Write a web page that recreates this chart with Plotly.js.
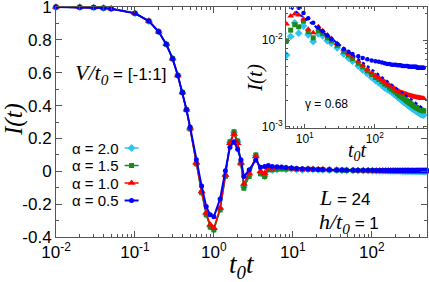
<!DOCTYPE html>
<html>
<head>
<meta charset="utf-8">
<script src="https://cdn.plot.ly/plotly-3.0.1.min.js"></script>
<style>
  html, body { margin: 0; padding: 0; background: #fff; }
  #myDiv { width: 429px; height: 282px; }
</style>
</head>
<body>
<div id="myDiv"></div>
<script>
// time grid t0*t shared by all four runs
var t = [0.01, 0.02, 0.03, 0.04, 0.05, 0.1, 0.15, 0.2, 0.25, 0.3, 0.35, 0.4, 0.45, 0.5,
  0.6, 0.7, 0.8, 0.9, 1.0, 1.2, 1.4, 1.6, 1.8, 2.0, 2.2, 2.4, 2.8, 3.4, 3.9, 4.4, 4.9,
  5.5, 6.3, 7.2, 8.2, 9.6, 11.2, 13.2, 15.6, 18, 21, 24, 29, 36, 42, 48, 58, 67, 78, 90,
  102, 114, 126, 138, 150, 162, 174, 186, 198, 210, 222, 234, 246, 258, 270, 282, 294,
  306, 318, 330, 342, 354, 366, 378, 390, 402, 414, 426, 438, 450, 462, 474, 486, 498];

var alpha20 = [1.0, 0.999, 0.997, 0.994, 0.99, 0.962, 0.915, 0.85, 0.773, 0.686, 0.584, 0.48, 0.375, 0.262,
  0.048, -0.128, -0.262, -0.336, -0.352, -0.23, -0.028, 0.176, 0.236, 0.18, 0.045, -0.095, -0.025, 0.095, -0.01, -0.03, 0.012,
  0.0067, 0.011, 0.0158, 0.012, 0.0145, 0.0115, 0.0096, 0.0118, 0.0112, 0.0098, 0.0092, 0.0081, 0.0069, 0.0062, 0.0057, 0.0050, 0.0045, 0.0041, 0.0037,
  0.0034, 0.0032, 0.0030, 0.0028, 0.0027, 0.0026, 0.0025, 0.0024, 0.0023, 0.0022, 0.00212, 0.00205, 0.00198, 0.00192, 0.00187, 0.00182, 0.00177,
  0.00173, 0.00169, 0.00165, 0.00162, 0.00159, 0.00156, 0.00153, 0.0015, 0.00148, 0.00146, 0.00144, 0.00142, 0.0014, 0.00139, 0.00138, 0.00137, 0.00136];

var alpha15 = [1.0, 0.999, 0.997, 0.994, 0.99, 0.962, 0.915, 0.85, 0.773, 0.686, 0.584, 0.48, 0.375, 0.258,
  0.045, -0.13, -0.265, -0.34, -0.357, -0.235, -0.03, 0.18, 0.241, 0.185, 0.05, -0.103, -0.032, 0.1, -0.015, -0.032, 0.01,
  0.0098, 0.013, 0.015, 0.0142, 0.0165, 0.0125, 0.0106, 0.0128, 0.0119, 0.0106, 0.0098, 0.0087, 0.0074, 0.0067, 0.0061, 0.0054, 0.0049, 0.0044, 0.0040,
  0.0037, 0.0035, 0.0033, 0.0031, 0.0030, 0.0028, 0.0027, 0.0026, 0.0025, 0.0024, 0.0023, 0.00225, 0.00218, 0.00212, 0.00206, 0.0020, 0.00195,
  0.0019, 0.00186, 0.00182, 0.00178, 0.00175, 0.00172, 0.00169, 0.00166, 0.00164, 0.00162, 0.0016, 0.00158, 0.00156, 0.00155, 0.00154, 0.00153, 0.00152];

var alpha10 = [1.0, 0.999, 0.997, 0.994, 0.99, 0.962, 0.915, 0.85, 0.773, 0.686, 0.584, 0.48, 0.375, 0.26,
  0.05, -0.123, -0.253, -0.326, -0.346, -0.223, -0.022, 0.171, 0.227, 0.171, 0.05, -0.077, -0.01, 0.09, 0.0, -0.012, 0.02,
  0.0153, 0.0189, 0.02, 0.0195, 0.0175, 0.0133, 0.0121, 0.0142, 0.0128, 0.0114, 0.0104, 0.0091, 0.0078, 0.0070, 0.0064, 0.0057, 0.0051, 0.0046, 0.0042,
  0.0039, 0.0037, 0.0035, 0.0033, 0.0031, 0.0030, 0.0029, 0.0028, 0.0027, 0.0026, 0.00255, 0.0025, 0.00246, 0.00243, 0.0024, 0.00237, 0.00234,
  0.00231, 0.00229, 0.00227, 0.00225, 0.00223, 0.00221, 0.0022, 0.00219, 0.00218, 0.00217, 0.00216, 0.00215, 0.00214, 0.00213, 0.00212, 0.00212, 0.00211];

var alpha05 = [1.0, 0.999, 0.997, 0.994, 0.99, 0.962, 0.915, 0.85, 0.773, 0.686, 0.584, 0.48, 0.375, 0.27,
  0.07, -0.09, -0.215, -0.265, -0.276, -0.168, 0.004, 0.147, 0.18, 0.134, 0.07, -0.032, 0.009, 0.069, 0.025, 0.03, 0.035,
  0.03, 0.028, 0.026, 0.0235, 0.0205, 0.0178, 0.0158, 0.0139, 0.0126, 0.0113, 0.0103, 0.0090, 0.0079, 0.0073, 0.0069, 0.0065, 0.0062, 0.0060, 0.0058,
  0.0057, 0.0056, 0.0055, 0.0054, 0.0053, 0.0053, 0.0052, 0.0052, 0.0052, 0.0051, 0.0051, 0.0051, 0.0050, 0.0050, 0.0050, 0.0050, 0.0050,
  0.0049, 0.0049, 0.0049, 0.0049, 0.0049, 0.0049, 0.0049, 0.0049, 0.0048, 0.0048, 0.0048, 0.0048, 0.0048, 0.0048, 0.0048, 0.0048, 0.0048];

// power-law guide in the inset
var fitT = [5.4, 500];
var fitI = [0.026, 0.0016];

var sans = 'Liberation Sans, Arial, sans-serif';
var serif = 'Liberation Serif, Times New Roman, serif';
var axisColor = '#555';

var runs = [
  {name: '\u03b1 = 2.0', y: alpha20, color: '#2cc4f4', symbol: 'diamond', size: 6, insetSize: 6},
  {name: '\u03b1 = 1.5', y: alpha15, color: '#1b8a1b', symbol: 'square', size: 5, insetSize: 5},
  {name: '\u03b1 = 1.0', y: alpha10, color: '#ff0000', symbol: 'triangle-up', size: 7, insetSize: 6},
  {name: '\u03b1 = 0.5', y: alpha05, color: '#0000ff', symbol: 'circle', size: 5, insetSize: 4.5}
];

var data = [];
runs.forEach(function (r) {
  data.push({
    x: t, y: r.y, xaxis: 'x', yaxis: 'y',
    mode: 'lines+markers', name: r.name, cliponaxis: false,
    line: {color: r.color, width: r.color === '#0000ff' ? 2 : 1.5},
    marker: {color: r.color, symbol: r.symbol, size: r.size}
  });
});
runs.forEach(function (r) {
  data.push({
    x: t, y: r.y, xaxis: 'x2', yaxis: 'y2',
    mode: 'markers', showlegend: false,
    marker: {color: r.color, symbol: r.symbol, size: r.insetSize}
  });
});
data.push({
  x: fitT, y: fitI, xaxis: 'x2', yaxis: 'y2',
  mode: 'lines', showlegend: false,
  line: {color: '#0000ff', width: 2, dash: 'dot'}
});

function axisStyle(extra) {
  var base = {
    showline: true, linecolor: axisColor, linewidth: 1, mirror: 'allticks',
    ticks: 'inside', tickcolor: axisColor, ticklen: 6,
    showgrid: false, zeroline: false, ticklabeloverflow: 'allow'
  };
  for (var k in extra) base[k] = extra[k];
  return base;
}

function label(x, y, text, size, family, extra) {
  var a = {xref: 'paper', yref: 'paper', x: x, y: y, xanchor: 'center', yanchor: 'middle',
    showarrow: false, text: text, font: {family: family, size: size}};
  for (var k in extra) a[k] = extra[k];
  return a;
}

var mathSpan = '<span style="font-family:Liberation Serif;font-size:22px">';

var layout = {
  width: 429, height: 282,
  margin: {l: 56, r: 2, t: 7, b: 45},
  paper_bgcolor: '#fff', plot_bgcolor: '#fff',
  font: {family: sans, size: 17, color: '#000'},
  showlegend: true,
  legend: {x: 0.043, y: 0.4217, xanchor: 'left', yanchor: 'top', bgcolor: 'rgba(0,0,0,0)', font: {family: sans, size: 15}},
  xaxis: axisStyle({
    type: 'log', range: [-2, 2.7], tickmode: 'array',
    tickvals: [0.01, 0.1, 1, 10, 100],
    ticktext: ['10<sup>-2</sup>', '10<sup>-1</sup>', '10<sup>0</sup>', '10<sup>1</sup>', '10<sup>2</sup>'],
    minor: {ticks: 'inside', ticklen: 3, dtick: 'D1', tickcolor: axisColor, showgrid: false}
  }),
  yaxis: axisStyle({
    range: [-0.4, 1.0005], tickmode: 'array',
    tickvals: [-0.4, -0.2, 0, 0.2, 0.4, 0.6, 0.8, 1],
    ticktext: ['-0.4', '-0.2', '0', '0.2', '0.4', '0.6', '0.8', '1'],
    minor: {ticks: 'inside', ticklen: 3, dtick: 0.1, tickcolor: axisColor, showgrid: false}
  }),
  xaxis2: axisStyle({
    type: 'log', domain: [0.62, 1], anchor: 'y2', range: [0.733, 2.743], tickmode: 'array',
    tickvals: [10, 100], ticktext: ['10<sup>1</sup>', '10<sup>2</sup>'],
    tickfont: {size: 12}, ticklen: 4,
    minor: {ticks: 'inside', ticklen: 2, dtick: 'D1', tickcolor: axisColor, showgrid: false}
  }),
  yaxis2: axisStyle({
    type: 'log', domain: [0.474, 1], anchor: 'x2', range: [-3.015, -1.619], tickmode: 'array',
    tickvals: [0.001, 0.01], ticktext: ['10<sup>-3</sup>', '10<sup>-2</sup>'],
    tickfont: {size: 12}, ticklen: 4,
    minor: {ticks: 'inside', ticklen: 2, dtick: 'D1', tickcolor: axisColor, showgrid: false}
  }),
  annotations: [
    label(-0.113, 0.509, '<i>I(t)</i>', 25, serif, {textangle: -90}),
    label(0.501, -0.126, '<i>t<sub>0</sub>t</i>', 27, serif),
    label(0.536, 0.691, '<i>I(t)</i>', 21, serif, {textangle: -90}),
    label(0.814, 0.37, '<i>t<sub>0</sub>t</i>', 20, serif),
    label(0.0458, 0.709, mathSpan + '<i>V/t<sub>0</sub></i></span> = [-1:1]', 17, sans, {xanchor: 'left'}),
    label(0.7035, 0.1717, mathSpan + '<i>L</i></span> = 24', 17, sans, {xanchor: 'left'}),
    label(0.7035, 0.062, mathSpan + '<i>h/t<sub>0</sub></i></span> = 1', 17, sans, {xanchor: 'left'}),
    label(0.6658, 0.578, '\u03b3 = 0.68', 12, sans, {xanchor: 'left'})
  ]
};

Plotly.newPlot('myDiv', data, layout, {staticPlot: true}).then(function (gd) {
  // gnuplot-style key: label first, short sample after it, tighter rows
  var rowH = 17.5;
  gd.querySelectorAll('.legend .traces').forEach(function (item, i) {
    var text = item.querySelector('.legendtext');
    text.setAttribute('x', 0);
    var w = text.getBBox().width;
    var line = item.querySelector('.legendlines path');
    if (line) line.setAttribute('d', 'M13,0h14');
    item.querySelector('.layers').setAttribute('transform', 'translate(' + (w - 7) + ',0)');
    item.setAttribute('transform', 'translate(0,' + (8 + rowH * i) + ')');
  });
});
</script>
</body>
</html>
